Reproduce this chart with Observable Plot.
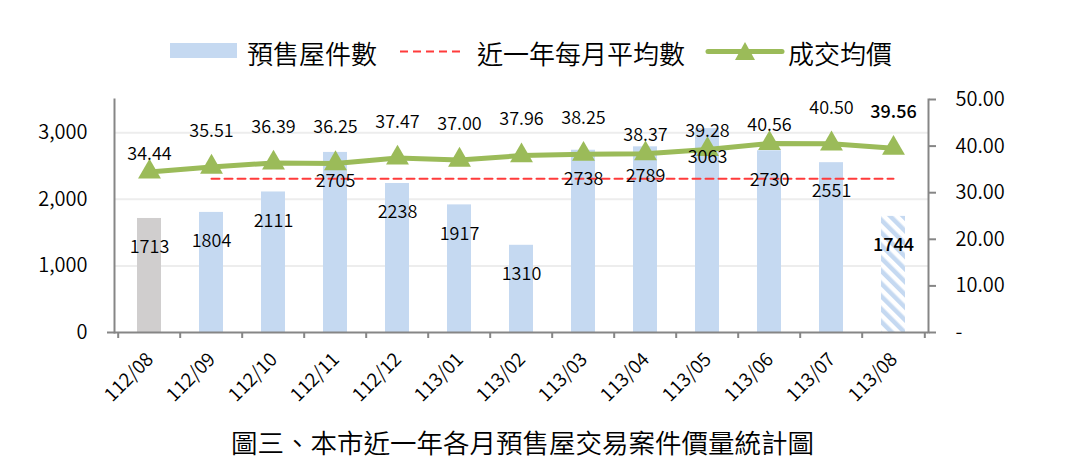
<!DOCTYPE html>
<html>
<head>
<meta charset="utf-8">
<script src="https://cdn.jsdelivr.net/npm/d3@7"></script>
<script src="https://cdn.jsdelivr.net/npm/@observablehq/plot@0.6"></script>
<style>
  html, body { margin: 0; padding: 0; background: #fff; }
  #wrap { position: relative; width: 1080px; height: 474px; overflow: hidden; font-family: "Noto Sans CJK TC", "Noto Sans", sans-serif; font-weight: 350; color: #000; }
  #legend { position: absolute; left: 0; top: 0; }
  #chart { position: absolute; left: 0; top: 80px; }
  #title { position: absolute; left: 231px; top: 426px; font-size: 26.5px; line-height: 32px; white-space: nowrap; color: #000; font-weight: 350; }
  #chart text { font-weight: 350; }
  #chart text.bold, #chart g.bold text { font-weight: 500; }
</style>
</head>
<body>
<div id="wrap">
  <svg width="0" height="0" style="position:absolute">
    <defs>
      <pattern id="hatch" width="9" height="9" patternUnits="userSpaceOnUse" patternTransform="rotate(-45)">
        <rect x="0" y="0" width="9" height="9" fill="#ffffff"></rect>
        <rect x="0" y="0" width="4.5" height="9" fill="#C5D9F1"></rect>
      </pattern>
    </defs>
  </svg>
  <svg id="legend" width="1080" height="80" font-family="Noto Sans CJK TC, Noto Sans, sans-serif" font-weight="350">
    <rect x="170" y="43" width="67" height="15" fill="#C5D9F1"></rect>
    <text x="247" y="52" dominant-baseline="central" font-size="26" fill="#000">預售屋件數</text>
    <line x1="400" y1="51.5" x2="462" y2="51.5" stroke="#FF3B3B" stroke-width="2" stroke-dasharray="8,5"></line>
    <text x="477" y="52" dominant-baseline="central" font-size="26" fill="#000">近一年每月平均數</text>
    <line x1="708" y1="51.5" x2="782" y2="51.5" stroke="#9BBB59" stroke-width="5" stroke-linecap="round"></line>
    <path d="M745,42 L755,60 L735,60 Z" fill="#9BBB59"></path>
    <text x="788" y="52" dominant-baseline="central" font-size="26" fill="#000">成交均價</text>
  </svg>
  <div id="chart"></div>
  <div id="title">圖三、本市近一年各月預售屋交易案件價量統計圖</div>
</div>
<script>
const months = ["112/08","112/09","112/10","112/11","112/12","113/01","113/02","113/03","113/04","113/05","113/06","113/07","113/08"];
const presaleCounts = [1713,1804,2111,2705,2238,1917,1310,2738,2789,3063,2730,2551,1744];
const avgPrices = [34.44,35.51,36.39,36.25,37.47,37.00,37.96,38.25,38.37,39.28,40.56,40.50,39.56];
const yearlyAvgCount = 2308;
const leftTicks = [0,1000,2000,3000];
const rightTicks = [0,10,20,30,40,50];
const lowLabelMonths = ["112/08","113/04","113/05","113/06"];

const leftMax = 3500, rightMax = 50, k = leftMax / rightMax;
const data = months.map((m, i) => ({month: m, count: presaleCounts[i], price: avgPrices[i]}));
const avgLine = months.slice(1).map(m => ({month: m, value: yearlyAvgCount}));
const past = data.slice(0, -1), latest = data.slice(-1);

const W = 1080, H = 345, mL = 114, mR = 152, mT = 19, mB = 93;
const step = (W - mL - mR) / months.length;
const axisGrey = "#868686";
const lowSet = new Set(lowLabelMonths);

const chart = Plot.plot({
  width: W, height: H,
  marginLeft: mL, marginRight: mR, marginTop: mT, marginBottom: mB,
  style: {fontFamily: "Noto Sans CJK TC, Noto Sans, sans-serif", fontSize: "18px", color: "#000", background: "transparent", overflow: "visible"},
  x: {type: "band", domain: months, paddingInner: 0.61, paddingOuter: 0.305, axis: null},
  y: {domain: [0, leftMax], axis: null},
  marks: [
    Plot.ruleY(leftTicks.filter(d => d > 0), {stroke: "#EDEDED", strokeWidth: 2}),
    Plot.barY(data.slice(0, 1), {x: "month", y: "count", fill: "#D0CECE"}),
    Plot.barY(data.slice(1, -1), {x: "month", y: "count", fill: "#C5D9F1"}),
    Plot.barY(latest, {x: "month", y: "count", fill: "url(#hatch)"}),
    Plot.lineY(avgLine, {x: "month", y: "value", stroke: "#FF3B3B", strokeWidth: 2, strokeDasharray: "8,5"}),
    Plot.lineY(data, {x: "month", y: d => d.price * k, stroke: "#9BBB59", strokeWidth: 5}),
    Plot.dot(data, {x: "month", y: d => d.price * k, symbol: "triangle", r: 8.5, fill: "#9BBB59"}),
    Plot.text(past, {x: "month", y: "count", text: d => String(d.count), dy: 29, fontSize: 18, fill: "#000"}),
    Plot.text(latest, {x: "month", y: "count", text: d => String(d.count), dy: 29, fontSize: 18, fill: "#000", className: "bold"}),
    Plot.text(past.filter(d => !lowSet.has(d.month)), {x: "month", y: d => d.price * k, text: d => d.price.toFixed(2), dy: -36, fontSize: 18, fill: "#000"}),
    Plot.text(past.filter(d => lowSet.has(d.month)), {x: "month", y: d => d.price * k, text: d => d.price.toFixed(2), dy: -18, fontSize: 18, fill: "#000"}),
    Plot.text(latest, {x: "month", y: d => d.price * k, text: d => d.price.toFixed(2), dy: -36, fontSize: 18, fill: "#000", className: "bold"}),
    // axis frame lines
    Plot.ruleY([0], {stroke: axisGrey, strokeWidth: 2, insetLeft: -7}),
    Plot.frame({anchor: "left", stroke: axisGrey, strokeWidth: 2}),
    Plot.frame({anchor: "right", stroke: axisGrey, strokeWidth: 2}),
    // left axis
    Plot.axisY({anchor: "left", ticks: leftTicks, tickFormat: d3.format(","), tickSize: 0, tickPadding: 27, fontSize: 20, label: null}),
    // right axis
    Plot.axisY({anchor: "right", ticks: rightTicks.map(v => v * k), tickFormat: d => d === 0 ? "-" : (d / k).toFixed(2), tickSize: 7, tickPadding: 20, stroke: axisGrey, strokeWidth: 2, fontSize: 20, label: null}),
    // x tick marks at band boundaries
    Plot.axisX({anchor: "bottom", tickSize: 6, tickFormat: () => "", dx: -step / 2, stroke: axisGrey, strokeWidth: 2, label: null}),
    Plot.axisX([months[months.length - 1]], {anchor: "bottom", tickSize: 6, tickFormat: () => "", dx: step / 2, stroke: axisGrey, strokeWidth: 2, label: null}),
    // x labels
    Plot.text(months, {x: d => d, frameAnchor: "bottom", text: d => d, rotate: -45, textAnchor: "end", dx: 5, dy: 28, fontSize: 19, fill: "#000"})
  ]
});
document.getElementById("chart").appendChild(chart);
</script>
</body>
</html>
